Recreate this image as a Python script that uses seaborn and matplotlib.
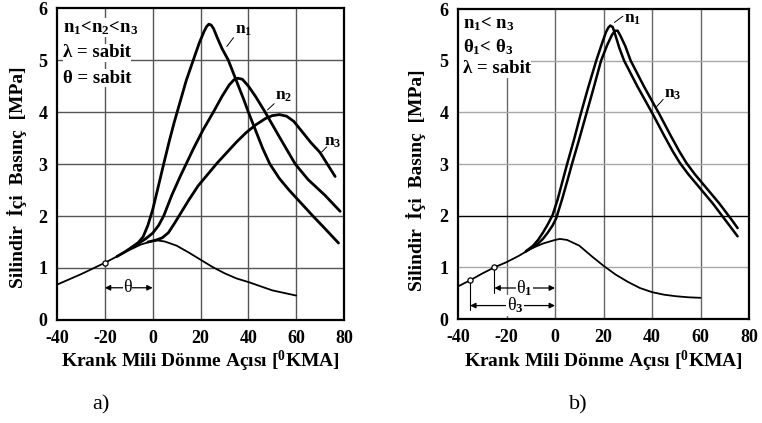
import numpy as np
import pandas as pd
import matplotlib
matplotlib.use("Agg")
import matplotlib.pyplot as plt
from matplotlib.patches import Rectangle
import seaborn as sns

# ---- data ----
# a) different speeds, same ignition advance
a_motor_x = [-40, -35, -30, -25, -20, -15, -10, -5, 0, 2, 5, 10, 15, 20, 25, 30, 35, 40, 45, 50, 55, 60]
a_motor_y = [0.68, 0.78, 0.88, 0.99, 1.10, 1.22, 1.34, 1.45, 1.52, 1.53, 1.51, 1.43, 1.30, 1.16, 1.02, 0.90, 0.80, 0.73, 0.65, 0.57, 0.52, 0.47]

a_n1_x = [-15, -12, -9, -6, -4, -2, 0, 2, 4.6, 7, 9, 11.5, 14, 17, 19.5, 21.5, 22.5, 23.5, 24.5, 25.5, 27, 29, 31.6,
          35, 38, 40, 43, 46, 49, 53, 57, 62, 67, 72, 77.7]
a_n1_y = [1.22, 1.30, 1.39, 1.49, 1.60, 1.82, 2.12, 2.50, 3.00, 3.45, 3.80, 4.20, 4.60, 5.00, 5.33, 5.55, 5.64, 5.69, 5.67, 5.60, 5.43, 5.22, 5.00,
          4.60, 4.25, 4.00, 3.65, 3.30, 3.00, 2.72, 2.50, 2.25, 2.00, 1.76, 1.48]

a_n2_x = [-9, -6, -3, 0, 2.5, 4.6, 8, 11.5, 14.2, 17.1, 21, 25.4, 29, 32, 34, 35.5, 37.5, 40, 43, 47, 53, 59.6, 65, 72, 78.4]
a_n2_y = [1.39, 1.47, 1.56, 1.67, 1.82, 2.00, 2.40, 2.76, 3.02, 3.30, 3.65, 4.00, 4.30, 4.52, 4.62, 4.65, 4.63, 4.50, 4.30, 4.00, 3.52, 3.00, 2.70, 2.40, 2.09]

a_n3_x = [-2, 1, 4, 6.6, 9, 11, 15, 19, 23, 27, 31, 35, 39, 43, 47, 50, 53, 56, 59, 62, 66, 70, 73, 76.3]
a_n3_y = [1.50, 1.53, 1.58, 1.68, 1.85, 2.00, 2.30, 2.58, 2.80, 3.02, 3.22, 3.42, 3.60, 3.75, 3.87, 3.93, 3.95, 3.92, 3.82, 3.65, 3.42, 3.22, 3.00, 2.76]

# b) different speeds, different ignition advance
b_motor_x = [-40, -35, -30, -25, -20, -15, -10, -5, 0, 2, 5, 10, 15, 20, 25, 30, 35, 40, 45, 50, 55, 60]
b_motor_y = [0.63, 0.75, 0.88, 1.00, 1.10, 1.22, 1.36, 1.46, 1.53, 1.55, 1.53, 1.42, 1.22, 1.03, 0.86, 0.72, 0.60, 0.52, 0.47, 0.44, 0.42, 0.41]

b_n1_x = [-12, -9, -7, -5, -3, -1, 1, 3, 5, 8, 10.5, 13.5, 17, 19.5, 21, 22, 22.8, 23.8, 25, 26.5, 28.5, 34, 40.5, 45, 48.5, 51.5,
          55, 60, 65, 70, 75.3]
b_n1_y = [1.31, 1.42, 1.53, 1.67, 1.83, 2.01, 2.30, 2.65, 3.00, 3.50, 3.95, 4.45, 5.00, 5.35, 5.55, 5.64, 5.68, 5.65, 5.48, 5.25, 5.00, 4.50, 3.95, 3.55, 3.25, 3.02,
          2.80, 2.52, 2.24, 1.93, 1.60]

b_n3_x = [-12, -9, -7, -5, -3, -1, 0.5, 3, 5, 7, 9.8, 12.8, 15.8, 19, 21.5, 23.5, 24.8, 25.8, 27, 29, 31.2, 36.7, 43.2, 47.7, 51.2, 54.2,
          57.7, 62.7, 67.7, 72.7, 75.3]
b_n3_y = [1.31, 1.39, 1.46, 1.55, 1.67, 1.81, 1.95, 2.33, 2.66, 3.00, 3.45, 3.95, 4.45, 5.00, 5.30, 5.50, 5.58, 5.58, 5.48, 5.28, 5.00, 4.50, 3.95, 3.55, 3.25, 3.02,
          2.80, 2.52, 2.24, 1.93, 1.76]

a_point = ([-20], [1.10])
b_points = ([-35, -25], [0.75, 1.00])

x_ticks = [-40, -20, 0, 20, 40, 60, 80]
y_ticks = [0, 1, 2, 3, 4, 5, 6]

sns.set_theme(style="white")
plt.rcParams['font.family'] = ['Liberation Serif', 'DejaVu Serif']
plt.rcParams['font.weight'] = 'bold'
plt.rcParams['axes.labelweight'] = 'bold'
plt.rcParams['mathtext.fontset'] = 'custom'
plt.rcParams['mathtext.rm'] = 'Liberation Serif:bold'
plt.rcParams['mathtext.it'] = 'Liberation Serif:bold'
plt.rcParams['mathtext.bf'] = 'Liberation Serif:bold'
plt.rcParams['axes.unicode_minus'] = False
plt.rcParams['text.color'] = 'black'
plt.rcParams['axes.labelcolor'] = 'black'
plt.rcParams['xtick.color'] = 'black'
plt.rcParams['ytick.color'] = 'black'

fig = plt.figure(figsize=(7.62, 4.23), dpi=100)
ax1 = fig.add_axes([57 / 762, 1 - 320 / 423, 287 / 762, 312 / 423])
ax2 = fig.add_axes([458 / 762, 1 - 319 / 423, 291 / 762, 310 / 423])

xlabel = 'Krank Mili Dönme Açısı [$^0$KMA]'
ylabel = 'Silindir  İçi  Basınç  [MPa]'
box = dict(fc='white', ec='none', pad=0.3)


def setup(ax, vcol, hcol, dark_y=None):
    ax.set_xlim(-40, 80)
    ax.set_ylim(0, 6)
    ax.set_xticks(x_ticks)
    ax.set_yticks(y_ticks)
    ax.tick_params(length=0, labelsize=13)
    ax.tick_params(axis='x', pad=7)
    ax.tick_params(axis='y', pad=7)
    for v in x_ticks[1:-1]:
        ax.axvline(v, color=vcol, lw=1.0, zorder=0)
    for v in y_ticks[1:-1]:
        c = 'black' if v == dark_y else hcol
        ax.axhline(v, color=c, lw=1.0, zorder=0)
    for s in ax.spines.values():
        s.set_color('black')
        s.set_linewidth(1.6)
    ax.set_xlabel(xlabel, fontsize=14, fontweight='bold')
    ax.set_ylabel(ylabel, fontsize=14, fontweight='bold')


def curve(ax, x, y, lw):
    sns.lineplot(x=x, y=y, ax=ax, color='black', linewidth=lw, sort=False, estimator=None)


def span_arrow(ax, x0, x1, y, label, xt):
    ax.annotate('', xy=(x1, y), xytext=(x0, y),
                arrowprops=dict(arrowstyle='<|-|>', color='black', lw=0.9,
                                mutation_scale=8, shrinkA=0, shrinkB=0))
    ax.text(xt, y, label, ha='center', va='center', fontsize=13,
            fontweight='normal', bbox=dict(fc='white', ec='none', pad=0.2))


# ---- panel a ----
setup(ax1, '#555555', '#555555')
curve(ax1, a_motor_x, a_motor_y, 1.3)
curve(ax1, a_n1_x, a_n1_y, 2.0)
curve(ax1, a_n2_x, a_n2_y, 2.0)
curve(ax1, a_n3_x, a_n3_y, 2.0)
sns.scatterplot(x=a_point[0], y=a_point[1], ax=ax1, s=14, marker='o',
                facecolor='white', edgecolor='black', linewidth=0.9, zorder=5)
span_arrow(ax1, -20, 0, 0.62, 'θ', -10.5)
ax1.text(-37.5, 5.62, 'n$_1$<n$_2$<n$_3$', fontsize=13.5, va='center', bbox=box)
ax1.text(-37.5, 5.14, 'λ = sabit', fontsize=13.5, va='center', bbox=box)
ax1.text(-37.5, 4.65, 'θ = sabit', fontsize=13.5, va='center', bbox=box)
for (lx, ly, tx, ty, t) in [((31, 33.8), (5.26, 5.43), 34.3, 5.42, 'n$_1$'),
                             ((48, 50.8), (4.04, 4.16), 51.0, 4.16, 'n$_2$'),
                             ((70.7, 72.8), (3.23, 3.33), 71.8, 3.27, 'n$_3$')]:
    ax1.plot(lx, ly, color='black', lw=0.7)
    ax1.text(tx, ty, t, fontsize=12.5, va='bottom')
ax1.yaxis.set_label_coords(-0.105, 0.458)
ax1.xaxis.set_label_coords(0.5, -0.092)

# ---- panel b ----
setup(ax2, '#666666', '#a8a8a8', dark_y=2)
ax2.add_patch(Rectangle((-40, 4.66), 21.5, 1.34, fc='white', ec='none', zorder=0.5))
curve(ax2, b_motor_x, b_motor_y, 1.3)
curve(ax2, b_n1_x, b_n1_y, 1.8)
curve(ax2, b_n3_x, b_n3_y, 1.8)
sns.scatterplot(x=b_points[0], y=b_points[1], ax=ax2, s=14, marker='o',
                facecolor='white', edgecolor='black', linewidth=0.9, zorder=5)
ax2.plot([-25, -25], [0.98, 0.5], color='black', lw=0.8)
ax2.plot([-35, -35], [0.73, 0.18], color='black', lw=0.8)
span_arrow(ax2, -25, 0, 0.60, 'θ$_1$', -12.5)
span_arrow(ax2, -35, 0, 0.26, 'θ$_3$', -16.5)
ax2.text(-38, 5.72, 'n$_1$< n$_3$', fontsize=13.5, va='center')
ax2.text(-38, 5.26, 'θ$_1$< θ$_3$', fontsize=13.5, va='center')
ax2.text(-38, 4.84, 'λ = sabit', fontsize=13.5, va='center', bbox=box)
ax2.plot((24.5, 28), (5.74, 5.86), color='black', lw=0.7)
ax2.text(28.4, 5.80, 'n$_1$', fontsize=12.5, va='center', zorder=6)
ax2.plot((41.9, 44.6), (4.11, 4.25), color='black', lw=0.7)
ax2.text(44.8, 4.20, 'n$_3$', fontsize=12.5, va='bottom')
ax2.yaxis.set_label_coords(-0.11, 0.448)
ax2.xaxis.set_label_coords(0.5, -0.096)

fig.text(101 / 762, 1 - 405 / 423, 'a)', ha='center', va='center', fontsize=16, fontweight='normal')
fig.text(578 / 762, 1 - 405 / 423, 'b)', ha='center', va='center', fontsize=16, fontweight='normal')

fig.savefig('out.png', dpi=100)
